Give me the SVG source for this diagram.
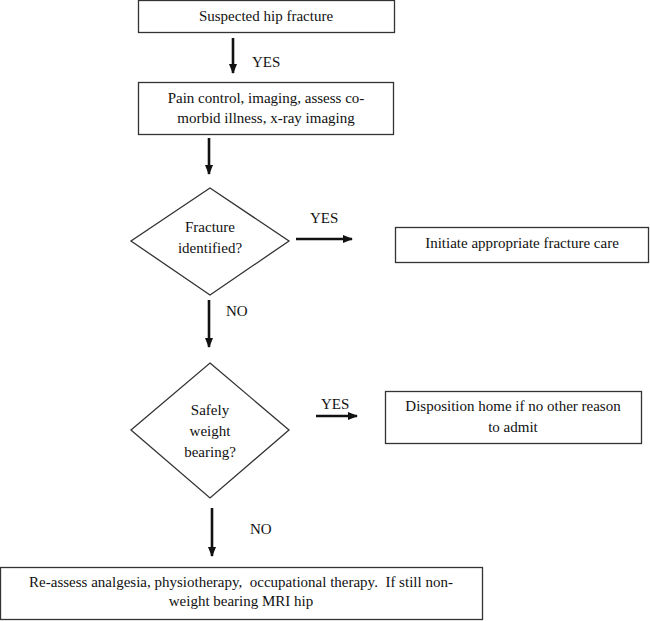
<svg xmlns="http://www.w3.org/2000/svg" width="650" height="621" viewBox="0 0 650 621">
<style>
.box{fill:#fff;stroke:#333;stroke-width:1.3}
text{font-family:'Liberation Serif','DejaVu Serif','Times New Roman',serif;font-size:15px;fill:#111}
.t{text-anchor:middle}
.c{stroke:#111;stroke-width:2.6;fill:none}
</style>
<defs>
<marker id="ah" markerUnits="userSpaceOnUse" markerWidth="10" markerHeight="10" viewBox="0 0 10 10" refX="9" refY="5" orient="auto">
<path d="M0,1 L10,5 L0,9 Z" fill="#111"/>
</marker>
</defs>
<rect width="650" height="621" fill="#fff"/>
<g id="n1"><rect class="box" x="138.5" y="0.5" width="256" height="32"/><text class="t" x="266" y="21">Suspected hip fracture</text></g>
<g id="n2"><rect class="box" x="138.5" y="82.5" width="255" height="52"/><text class="t" x="266" y="103">Pain control, imaging, assess co-</text><text class="t" x="266" y="123">morbid illness, x-ray imaging</text></g>
<g id="n3"><polygon class="box" points="210,188 289,241 210,295 131,241"/><text class="t" x="210" y="232">Fracture</text><text class="t" x="210" y="253">identified?</text></g>
<g id="n4"><rect class="box" x="395.5" y="227.5" width="253" height="35"/><text class="t" x="522" y="248">Initiate appropriate fracture care</text></g>
<g id="n5"><polygon class="box" points="210,363 289,430 210,498 131,430"/><text class="t" x="210" y="415">Safely</text><text class="t" x="210" y="436">weight</text><text class="t" x="210" y="457">bearing?</text></g>
<g id="n6"><rect class="box" x="385.5" y="391.5" width="256" height="52"/><text class="t" x="513" y="411">Disposition home if no other reason</text><text class="t" x="513" y="432">to admit</text></g>
<g id="n7"><rect class="box" x="0.5" y="567.5" width="482" height="52"/><text class="t" x="241" y="587" xml:space="preserve">Re-assess analgesia, physiotherapy,  occupational therapy.  If still non-</text><text class="t" x="241" y="606">weight bearing MRI hip</text></g>
<g id="connectors">
<line class="c" x1="233" y1="38" x2="233" y2="73" marker-end="url(#ah)"/>
<text x="252" y="67">YES</text>
<line class="c" x1="209" y1="138" x2="209" y2="174" marker-end="url(#ah)"/>
<line class="c" x1="296" y1="239" x2="352" y2="239" marker-end="url(#ah)"/>
<text x="310" y="223">YES</text>
<line class="c" x1="209" y1="300" x2="209" y2="347" marker-end="url(#ah)"/>
<text x="226" y="316">NO</text>
<line class="c" x1="316" y1="416" x2="357" y2="416" marker-end="url(#ah)"/>
<text x="321" y="409">YES</text>
<line class="c" x1="212" y1="508" x2="212" y2="556" marker-end="url(#ah)"/>
<text x="250" y="534">NO</text>
</g>
</svg>
